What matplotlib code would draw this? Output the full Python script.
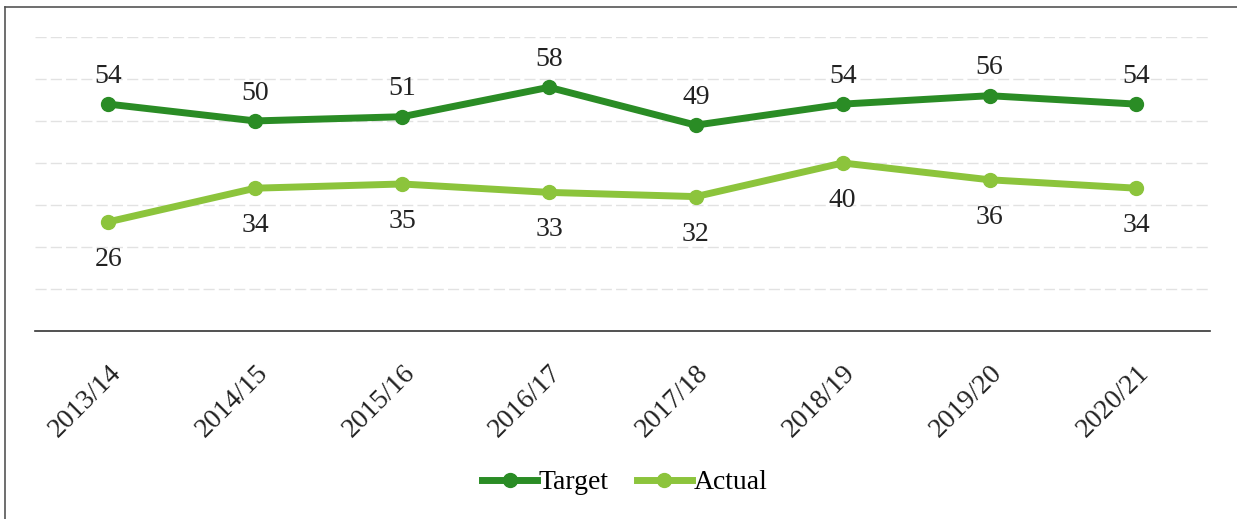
import numpy as np
import matplotlib.pyplot as plt
from matplotlib.lines import Line2D

# Datos del gráfico
years = ['2013/14', '2014/15', '2015/16', '2016/17',
         '2017/18', '2018/19', '2019/20', '2020/21']
target = [54, 50, 51, 58, 49, 54, 56, 54]
actual = [26, 34, 35, 33, 32, 40, 36, 34]

DARK_GREEN = '#2a8c25'
LIGHT_GREEN = '#8cc43c'
FS = 20

plt.rcParams['font.family'] = ['Liberation Serif', 'DejaVu Serif']

fig = plt.figure(figsize=(12.37, 5.19), dpi=100)
ax = fig.add_axes([0.0283, 0.362, 0.9497, 0.567])

x = np.arange(len(years))
ax.plot(x, target, color=DARK_GREEN, lw=5, marker='o', ms=10,
        solid_capstyle='round', label='Target', zorder=3)
ax.plot(x, actual, color=LIGHT_GREEN, lw=5, marker='o', ms=10,
        solid_capstyle='round', label='Actual', zorder=3)

# Etiquetas de valores
for xi, t, a in zip(x, target, actual):
    ax.annotate(str(t), (xi, t), xytext=(0, 20), textcoords='offset points',
                ha='center', va='center', fontsize=FS, color='#222222')
    ax.annotate(str(a), (xi, a), xytext=(0, -27), textcoords='offset points',
                ha='center', va='center', fontsize=FS, color='#222222')

ax.set_xlim(-0.5, len(years) - 0.5)
ax.set_ylim(0, 70)
ax.set_yticks(np.arange(10, 80, 10))
ax.yaxis.grid(True, color='#e2e2e2', lw=1, ls=(0, (8, 3)))
ax.set_yticklabels([])
ax.tick_params(axis='y', length=0)
ax.tick_params(axis='x', length=0, pad=21)
ax.set_xticks(x)
ax.set_xticklabels(years, rotation=45, ha='right', rotation_mode='anchor',
                   fontsize=FS, color='#222222')
for side in ['top', 'right', 'left']:
    ax.spines[side].set_visible(False)
ax.spines['bottom'].set_color('#333333')
ax.spines['bottom'].set_linewidth(1.2)

handles = [Line2D([], [], color=DARK_GREEN, lw=5, marker='o', ms=10),
           Line2D([], [], color=LIGHT_GREEN, lw=5, marker='o', ms=10)]
fig.legend(handles, ['Target', 'Actual'], loc='center',
           bbox_to_anchor=(0.505, 0.07), ncol=2, frameon=False,
           fontsize=FS, handlelength=2.0, handletextpad=0.05,
           columnspacing=1.0)

# Marco del recuadro
fig.add_artist(Line2D([0.004, 0.004], [0, 0.987], color='#555555', lw=1.2,
                      transform=fig.transFigure))
fig.add_artist(Line2D([0.004, 1.0], [0.987, 0.987], color='#555555', lw=1.2,
                      transform=fig.transFigure))

fig.savefig('out.png', dpi=100)
